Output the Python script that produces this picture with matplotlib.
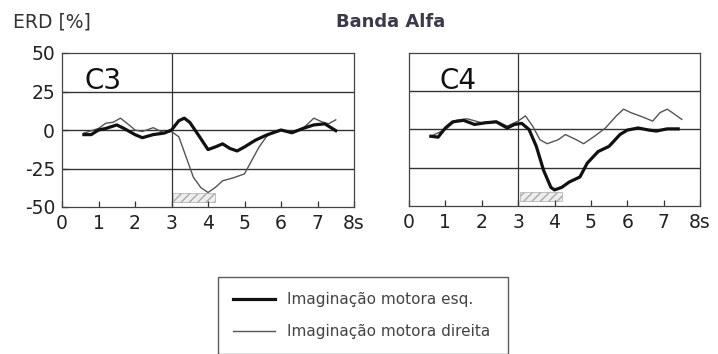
import matplotlib.pyplot as plt
from matplotlib.lines import Line2D
from matplotlib.patches import Rectangle

plt.rcParams['font.family'] = ['DejaVu Sans']
plt.rcParams['hatch.color'] = '#bbbbbb'

# ---- data (time in s, ERD in %) ----
c3_esq_t = [0.6, 0.8, 1.0, 1.2, 1.5, 1.7, 2.0, 2.2, 2.5, 2.8, 3.0, 3.2, 3.35, 3.5, 3.8,
            4.0, 4.2, 4.4, 4.6, 4.8, 5.0, 5.3, 5.6, 6.0, 6.3, 6.6, 6.9, 7.2, 7.5]
c3_esq = [-3, -3, 0, 1, 3.3, 1, -3, -5, -3, -2, 0, 6, 7.7, 5, -5.5,
          -12.7, -11, -9, -12, -13.6, -11, -6.6, -3.3, 0, -1.8, 1, 3.3, 4, -0.4]

c3_dir_t = [0.6, 1.0, 1.2, 1.4, 1.6, 1.8, 2.0, 2.2, 2.5, 2.8, 3.0, 3.2, 3.4, 3.6, 3.8,
            4.0, 4.2, 4.4, 4.7, 5.0, 5.2, 5.4, 5.6, 5.8, 6.0, 6.3, 6.6, 6.9, 7.1, 7.3, 7.5]
c3_dir = [-2, 1, 4.4, 5, 7.7, 4, 0, -1, 1.5, -2, -1, -4.4, -17.5, -30.7, -37.3,
          -40.6, -37.3, -33, -31, -28.5, -19.7, -11, -4.4, -1, 0, -1, 1, 7.7, 5.5, 4, 6.6]

c4_esq_t = [0.6, 0.8, 1.0, 1.2, 1.5, 1.8, 2.1, 2.4, 2.7, 2.9, 3.1, 3.3, 3.5, 3.7, 3.9,
            4.0, 4.2, 4.4, 4.7, 4.9, 5.2, 5.5, 5.8, 6.0, 6.3, 6.6, 6.8, 7.1, 7.4]
c4_esq = [-4.4, -5, 1, 5, 6, 3.3, 4.4, 5, 1, 3.3, 4, 0, -11, -26.7, -37.8,
          -39.5, -37.8, -34.4, -31, -22, -14.4, -11, -3.3, -0.4, 1, -0.4, -1, 0.4, 0.4]

c4_dir_t = [0.6, 1.0, 1.3, 1.6, 2.0, 2.4, 2.7, 3.0, 3.2, 3.4, 3.6, 3.8, 4.1, 4.3, 4.6,
            4.8, 5.1, 5.4, 5.7, 5.9, 6.1, 6.4, 6.7, 6.9, 7.1, 7.3, 7.5]
c4_dir = [-4.4, 0, 6, 7, 4.4, 5.5, 2.2, 5.5, 8.9, 2.2, -6.7, -9.3, -6.7, -3.3, -6.7,
          -9.3, -4.4, 1, 8.9, 13.3, 11, 8.4, 5.5, 11, 13.3, 10, 6.6]

panels = ["C3", "C4"]
x_ticks = [0, 1, 2, 3, 4, 5, 6, 7, 8]
x_labels = ["0", "1", "2", "3", "4", "5", "6", "7", "8s"]
y_ticks = [-50, -25, 0, 25, 50]
labels = ["Imaginação motora esq.", "Imaginação motora direita"]

fig = plt.figure(figsize=(7.18, 3.54), dpi=100)
ax1 = fig.add_axes([62/718, 1 - 207/354, 292/718, 154/354])
ax2 = fig.add_axes([409/718, 1 - 206/354, 291/718, 153/354])

series = [(ax1, c3_esq_t, c3_esq, c3_dir_t, c3_dir, panels[0], 0.62),
          (ax2, c4_esq_t, c4_esq, c4_dir_t, c4_dir, panels[1], 0.85)]

for ax, te, ve, td, vd, name, nx in series:
    for g in [25, 0, -25]:
        ax.axhline(g, color='#333333', lw=1.0, zorder=1)
    ax.axvline(3, color='#333333', lw=0.9, zorder=1)
    # small marker box under the cue period
    ax.add_patch(Rectangle((3.05, -47), 1.15, 6, facecolor='#eeeeee',
                           edgecolor='#aaaaaa', hatch='////', lw=0.5, zorder=1))
    ax.plot(td, vd, color='#555555', lw=1.0, zorder=2)
    ax.plot(te, ve, color='#111111', lw=2.3, zorder=3)
    ax.text(nx, 32, name, fontsize=20, va='center', ha='left', color='#111111')
    ax.set_xlim(0, 8)
    ax.set_ylim(-50, 50)
    ax.set_xticks(x_ticks)
    ax.set_xticklabels(x_labels, fontsize=13.5, color='#222222')
    ax.set_yticks(y_ticks)
    ax.tick_params(direction='in', length=4, width=0.9, color='#333333', pad=5)
    for s in ax.spines.values():
        s.set_color('#444444')
        s.set_linewidth(0.9)

ax1.set_yticklabels([str(v) for v in y_ticks], fontsize=13.5, color='#222222')
ax2.set_yticklabels([])
ax2.tick_params(axis='y', length=0)

fig.text(13/718, 1 - 22/354, "ERD [%]", fontsize=13.5, color='#333333', va='center', ha='left')
fig.text(391/718, 1 - 22/354, "Banda Alfa", fontsize=13, fontweight='bold',
         color='#3a3a48', va='center', ha='center')

handles = [Line2D([], [], color='#111111', lw=2.3), Line2D([], [], color='#555555', lw=1.0)]
leg = fig.legend(handles, labels, loc='upper left',
                 bbox_to_anchor=(218/718, 1 - 277/354, 290/718, 0), mode='expand',
                 fontsize=11, frameon=True, fancybox=False, borderpad=1.0,
                 labelspacing=1.1, handlelength=2.7, handletextpad=0.8,
                 borderaxespad=0)
leg.get_frame().set_edgecolor('#333333')
leg.get_frame().set_linewidth(1.0)
for t in leg.get_texts():
    t.set_color('#444444')

fig.savefig("out.png", dpi=100)
